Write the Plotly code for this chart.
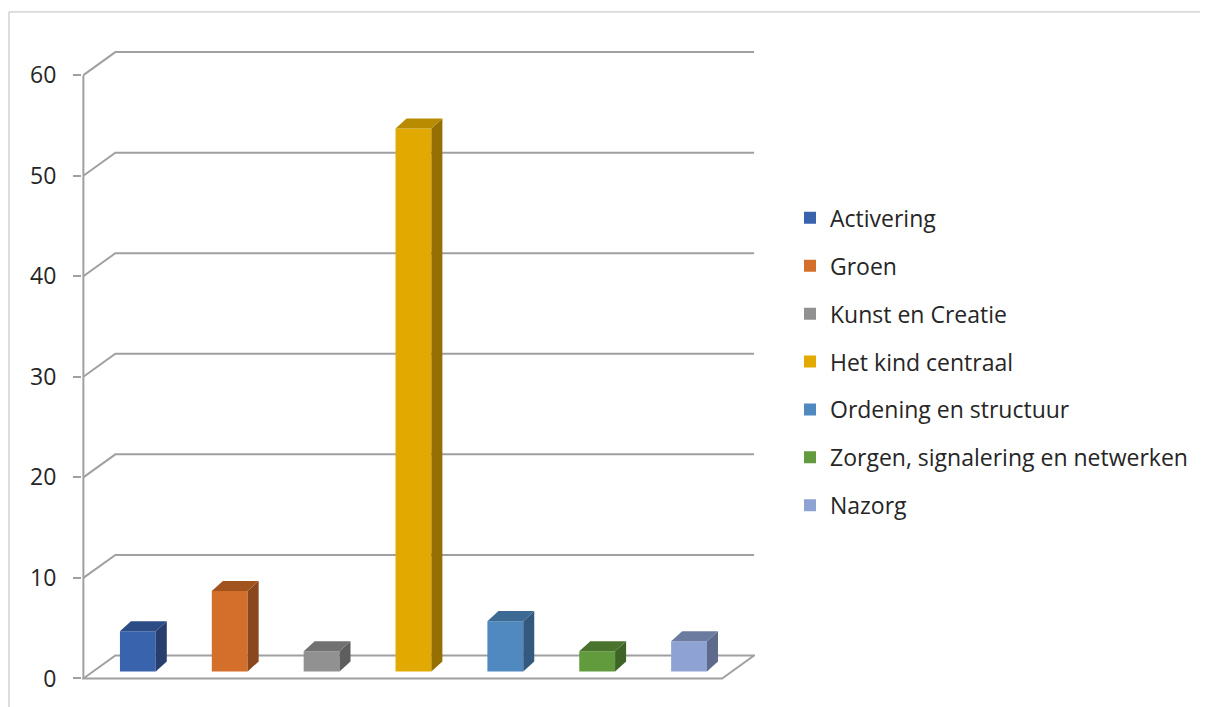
import plotly.graph_objects as go

categories = ["Activering", "Groen", "Kunst en Creatie", "Het kind centraal",
              "Ordening en structuur", "Zorgen, signalering en netwerken", "Nazorg"]
values = [4, 8, 2, 54, 5, 2, 3]
y_ticks = [0, 10, 20, 30, 40, 50, 60]

front_colors = ["#3A63AE", "#D36F2B", "#919191", "#E2AA00", "#4F89BF", "#629B3D", "#8FA2D4"]
side_colors = ["#283F6E", "#8A461C", "#5E5E5E", "#957000", "#335A7E", "#3F6427", "#5E6A8B"]
top_colors = ["#2C4C86", "#A2541F", "#717171", "#B88B00", "#3D6A93", "#4A732E", "#6B7BA0"]

# fake 3d look: offset of the back wall, in axis units
DX, DY = 0.348, 2.29
X0, X1 = -0.593, 6.36          # left / right end of the front floor edge
BAR_W = 0.39
BAR_BASE = 0.7                 # bars stand a bit inside the floor
BAR_DX, BAR_DY = 0.12, 1.0     # depth of a bar
GRID = "#A0A0A0"
FONT = "Open Sans"

fig = go.Figure()

for i, (name, v) in enumerate(zip(categories, values)):
    fig.add_trace(go.Bar(
        x=[i], y=[v], base=BAR_BASE, width=BAR_W, name=name,
        marker=dict(color=front_colors[i], line=dict(width=0)),
        legendgroup=name,
    ))

# side and top faces of the bars
for i, v in enumerate(values):
    left, right = i - BAR_W / 2, i + BAR_W / 2
    top = BAR_BASE + v
    fig.add_trace(go.Scatter(
        x=[right, right + BAR_DX, right + BAR_DX, right, right],
        y=[BAR_BASE, BAR_BASE + BAR_DY, top + BAR_DY, top, BAR_BASE],
        fill="toself", fillcolor=side_colors[i], mode="lines", line=dict(width=0),
        showlegend=False, hoverinfo="skip",
    ))
    fig.add_trace(go.Scatter(
        x=[left, right, right + BAR_DX, left + BAR_DX, left],
        y=[top, top, top + BAR_DY, top + BAR_DY, top],
        fill="toself", fillcolor=top_colors[i], mode="lines", line=dict(width=0),
        showlegend=False, hoverinfo="skip",
    ))

shapes = []
# floor
shapes.append(dict(type="path", xref="x", yref="y", layer="below",
                   path=f"M{X0},0 L{X0 + DX},{DY} L{X1 + DX},{DY} L{X1},0 Z",
                   line=dict(color=GRID, width=2)))
# back wall gridlines
for t in y_ticks[1:]:
    shapes.append(dict(type="path", xref="x", yref="y", layer="below",
                       path=f"M{X0},{t} L{X0 + DX},{t + DY} L{X1 + DX},{t + DY}",
                       line=dict(color=GRID, width=2)))
# front value axis
shapes.append(dict(type="path", xref="x", yref="y", layer="below",
                   path=f"M{X0},0 L{X0},{y_ticks[-1]}",
                   line=dict(color=GRID, width=2)))
# chart border
shapes.append(dict(type="rect", xref="paper", yref="paper",
                   x0=-0.1085, x1=1.683, y0=-0.0625, y1=1.0603,
                   line=dict(color="#BDBDBD", width=1)))

fig.update_layout(
    width=1200, height=699,
    margin=dict(l=74, r=453, t=42, b=26),
    plot_bgcolor="white", paper_bgcolor="white",
    barmode="overlay",
    shapes=shapes,
    font=dict(family=FONT, size=23, color="#262626"),
    legend=dict(x=1.052, y=0.768, xanchor="left", yanchor="top",
                traceorder="grouped", tracegroupgap=15,
                font=dict(family=FONT, size=23, color="#262626")),
)
fig.update_xaxes(range=[X0 - 0.015, X1 + DX + 0.01], showgrid=False, zeroline=False,
                 showticklabels=False, showline=False)
fig.update_yaxes(range=[-0.25, 62.5], tickvals=y_ticks, showgrid=False, zeroline=False,
                 showline=False, ticks="outside", ticklen=8, tickcolor=GRID, tickwidth=2,
                 ticklabelstandoff=12, tickfont=dict(family=FONT, size=23, color="#262626"))

fig.write_html("out.html")
